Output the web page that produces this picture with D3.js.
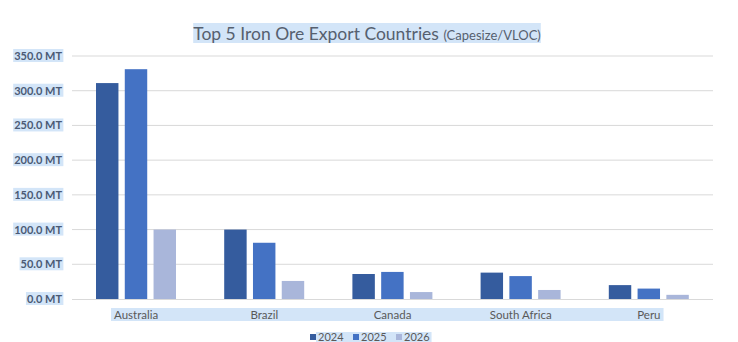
<!DOCTYPE html>
<html>
<head>
<meta charset="utf-8">
<script src="https://cdn.jsdelivr.net/npm/d3@7"></script>
<style>
  body { margin: 0; background: #fff; }
  svg { display: block; font-family: Lato, "Open Sans", sans-serif; }
</style>
</head>
<body>
<svg id="chart" width="738" height="342"></svg>
<script>
const categories = ["Australia", "Brazil", "Canada", "South Africa", "Peru"];
const years = ["2024", "2025", "2026"];
const values2024 = [311, 100, 36, 38, 20];
const values2025 = [331, 81, 39, 33, 15];
const values2026 = [100, 26, 10, 13, 6];
const yTicks = [0, 50, 100, 150, 200, 250, 300, 350];
const seriesValues = { "2024": values2024, "2025": values2025, "2026": values2026 };
const colors = { "2024": "#355c9e", "2025": "#4472c4", "2026": "#a9b6da" };
const HL = "#d3e5f8";

const svg = d3.select("#chart");

const x0 = d3.scaleBand().domain(categories).range([72, 713]).padding(0);
const x1 = d3.scaleBand().domain(years).range([24, 104]).paddingInner(0.22);
const y = d3.scaleLinear().domain([0, 350]).range([299, 56]);

// gridlines
svg.append("g").selectAll("line").data(yTicks.filter(d => d > 0)).join("line")
  .attr("x1", 72).attr("x2", 713)
  .attr("y1", d => y(d)).attr("y2", d => y(d))
  .attr("stroke", "#d9d9d9").attr("stroke-width", 1);

// bars
const g = svg.append("g").selectAll("g").data(categories).join("g")
  .attr("transform", d => `translate(${x0(d)},0)`);
g.selectAll("rect").data((c, i) => years.map(yr => ({ yr, v: seriesValues[yr][i] }))).join("rect")
  .attr("x", d => x1(d.yr)).attr("width", x1.bandwidth())
  .attr("y", d => y(d.v)).attr("height", d => y(0) - y(d.v))
  .attr("fill", d => colors[d.yr]);

// x axis line
svg.append("line").attr("x1", 72).attr("x2", 713).attr("y1", y(0) + 0.5).attr("y2", y(0) + 0.5)
  .attr("stroke", "#d9d9d9");

// y axis labels with highlight
const yAxis = d3.axisLeft(y).tickValues(yTicks).tickSize(0).tickPadding(0)
  .tickFormat(d => d3.format(".1f")(d) + " MT");
const ya = svg.append("g").attr("transform", "translate(62,0)").call(yAxis);
ya.select(".domain").remove();
ya.selectAll("text").attr("font-family", "Lato, sans-serif").attr("font-size", 11)
  .attr("font-weight", 700).attr("fill", "#4a5a75");
ya.selectAll(".tick").each(function() {
  const t = d3.select(this).select("text");
  const b = t.node().getBBox();
  d3.select(this).insert("rect", "text").attr("x", b.x - 1).attr("y", b.y).attr("width", b.width + 2).attr("height", b.height)
    .attr("fill", HL);
});

// category labels
const catBg = svg.append("rect").attr("fill", HL);
const catG = svg.append("g");
catG.selectAll("text").data(categories).join("text")
  .attr("x", d => x0(d) + x0.bandwidth() / 2).attr("y", 319)
  .attr("text-anchor", "middle").attr("font-size", 11.5).attr("fill", "#595959").text(d => d);
{
  const b = catG.node().getBBox();
  catBg.attr("x", b.x - 3).attr("y", 308).attr("width", b.width + 6).attr("height", 13);
}

// title
const titleBg = svg.append("rect").attr("fill", HL);
const title = svg.append("text").attr("x", 367).attr("y", 40).attr("text-anchor", "middle").attr("fill", "#56606f");
title.append("tspan").attr("font-size", 17.5).text("Top 5 Iron Ore Export Countries ");
title.append("tspan").attr("font-size", 13).text("(Capesize/VLOC)");
{
  const b = title.node().getBBox();
  titleBg.attr("x", b.x).attr("y", 23).attr("width", b.width).attr("height", 20);
}

// legend
const legBg = svg.append("rect").attr("fill", HL);
const leg = svg.append("g");
const legX = d3.scaleOrdinal().domain(years).range([310, 353, 396]);
const li = leg.selectAll("g").data(years).join("g").attr("transform", d => `translate(${legX(d)},0)`);
li.append("rect").attr("x", 0).attr("y", 334).attr("width", 6).attr("height", 6).attr("fill", d => colors[d]);
li.append("text").attr("x", 8).attr("y", 341).attr("font-size", 11).attr("fill", "#595959").text(d => d);
{
  const b = leg.node().getBBox();
  legBg.attr("x", b.x + 6).attr("y", 332).attr("width", b.width - 4).attr("height", 12);
}
</script>
</body>
</html>
